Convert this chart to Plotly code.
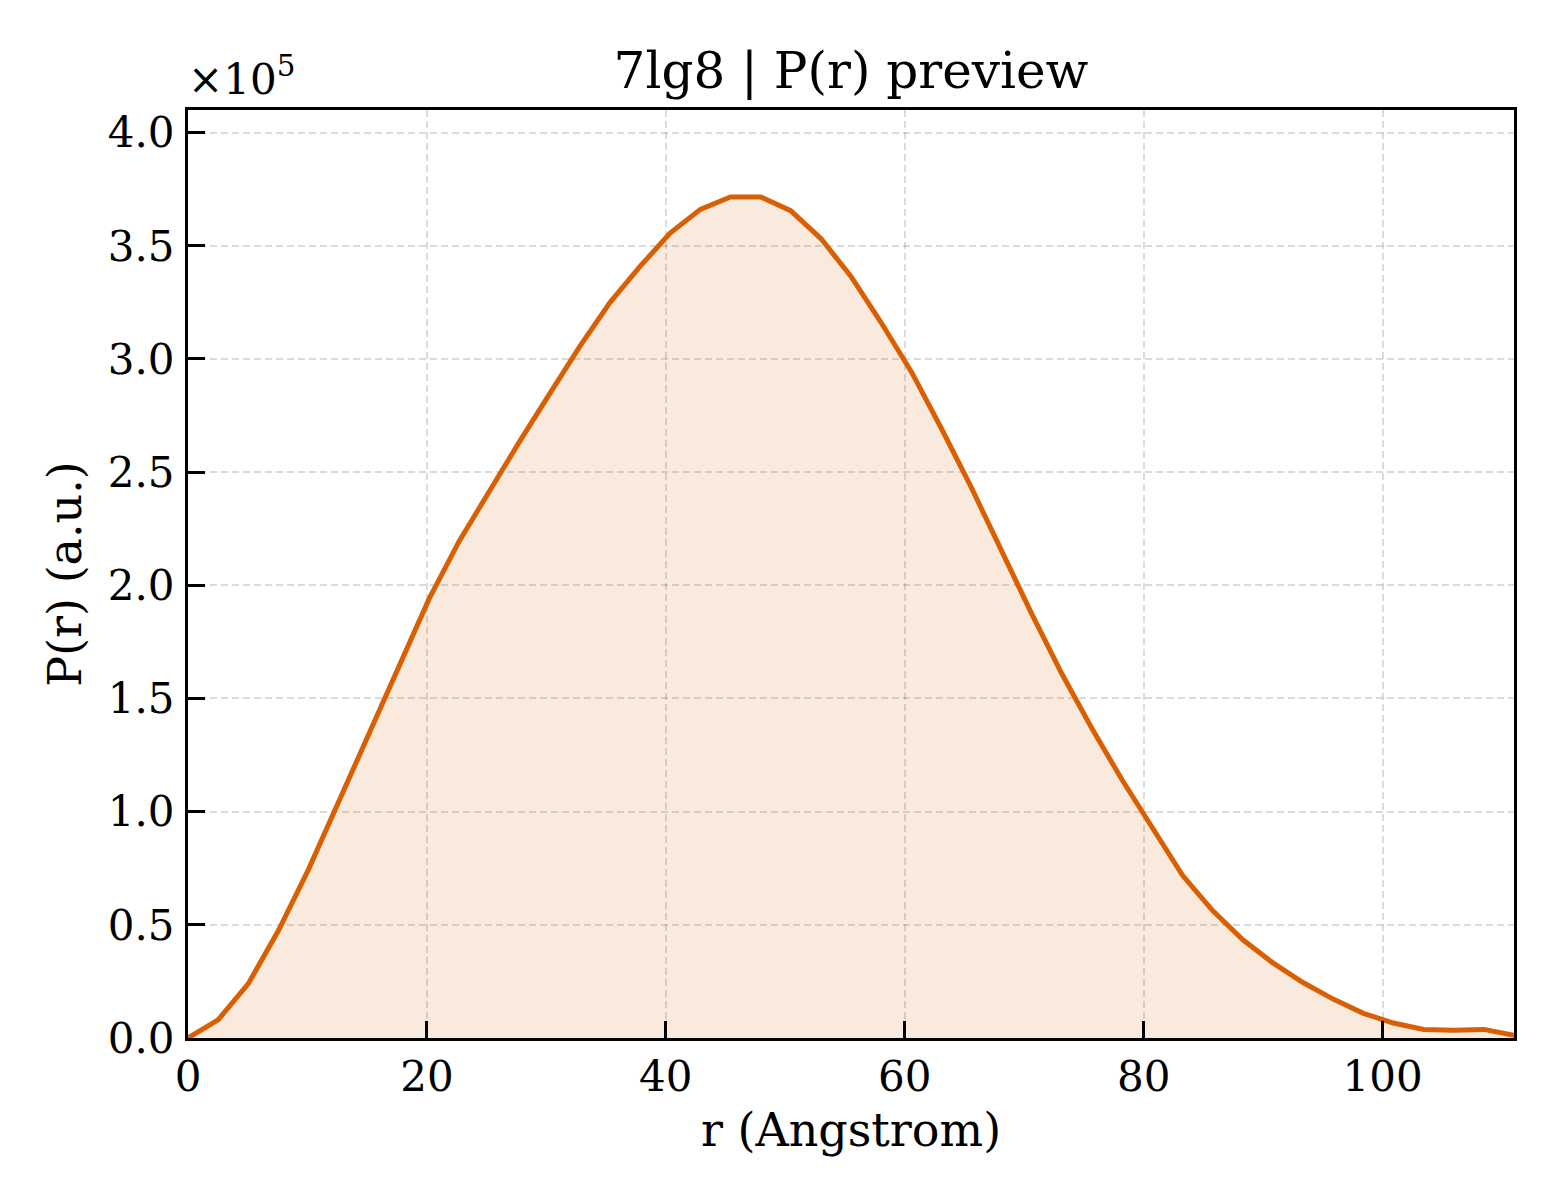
import plotly.graph_objects as go

# P(r) preview for 7lg8
r_angstrom = [0.00, 2.52, 5.05, 7.57, 10.09, 12.61, 15.14, 17.66, 20.18, 22.70,
              25.23, 27.75, 30.27, 32.80, 35.32, 37.84, 40.36, 42.89, 45.41, 47.93,
              50.45, 52.98, 55.50, 58.02, 60.55, 63.07, 65.59, 68.11, 70.64, 73.16,
              75.68, 78.20, 80.73, 83.25, 85.77, 88.30, 90.82, 93.34, 95.86, 98.39,
              100.91, 103.43, 105.95, 108.48, 111.00]
p_r = [0, 8000, 24000, 47500, 74500, 104500, 135200, 165200, 194000, 219500,
       242000, 263500, 284600, 305600, 324900, 340900, 355600, 366100, 371600, 371600,
       365500, 353200, 336500, 316100, 294400, 269300, 243000, 214900, 187300, 160800,
       136600, 114000, 93000, 71900, 56300, 43400, 33200, 24500, 17200, 10900,
       6600, 3800, 3400, 3800, 1200]

y_tickvals = [0, 50000, 100000, 150000, 200000, 250000, 300000, 350000, 400000]
y_ticktext = ["0.0", "0.5", "1.0", "1.5", "2.0", "2.5", "3.0", "3.5", "4.0"]
x_tickvals = [0, 20, 40, 60, 80, 100]

serif = "DejaVu Serif"
line_col = "#d95f02"

fig = go.Figure()
fig.add_trace(go.Scatter(
    x=r_angstrom,
    y=p_r,
    mode="lines",
    line=dict(color=line_col, width=5),
    fill="tozeroy",
    fillcolor="rgba(217,95,2,0.13)",
    showlegend=False,
))

axis_common = dict(
    showline=True,
    linecolor="black",
    linewidth=3,
    mirror=True,
    ticks="inside",
    ticklen=17,
    tickwidth=3,
    tickcolor="black",
    showgrid=True,
    gridcolor="rgba(0,0,0,0.14)",
    gridwidth=1.5,
    griddash="7px,4px",
    zeroline=False,
    tickfont=dict(family=serif, size=42, color="black"),
)

fig.update_xaxes(
    axis_common,
    range=[0, 111],
    tickvals=x_tickvals,
    ticklabelstandoff=0,
    title=dict(text="r (Angstrom)", font=dict(family=serif, size=46, color="black"), standoff=14),
)
fig.update_yaxes(
    axis_common,
    range=[0, 410000],
    tickvals=y_tickvals,
    ticktext=y_ticktext,
    ticklabelstandoff=2,
    title=dict(text="P(r) (a.u.)", font=dict(family=serif, size=46, color="black"), standoff=12),
)

# the page adds ~8px body margin, so margins are trimmed to land the axes box
fig.update_layout(
    width=1560,
    height=1200,
    paper_bgcolor="white",
    plot_bgcolor="white",
    margin=dict(l=180, r=54, t=102, b=170),
    font=dict(family=serif, color="black"),
    title=dict(
        text="7lg8 | P(r) preview",
        font=dict(family=serif, size=50, color="black"),
        x=0.5, xref="paper", xanchor="center",
        y=1 - 62 / 1200, yref="container", yanchor="middle",
    ),
)

# matplotlib-style offset label
fig.add_annotation(
    text="×10<sup>5</sup>",
    xref="paper", yref="paper",
    x=0, y=1,
    xanchor="left", yanchor="bottom",
    showarrow=False,
    xshift=-2, yshift=4,
    font=dict(family=serif, size=42, color="black"),
)

fig.write_html("out.html")
